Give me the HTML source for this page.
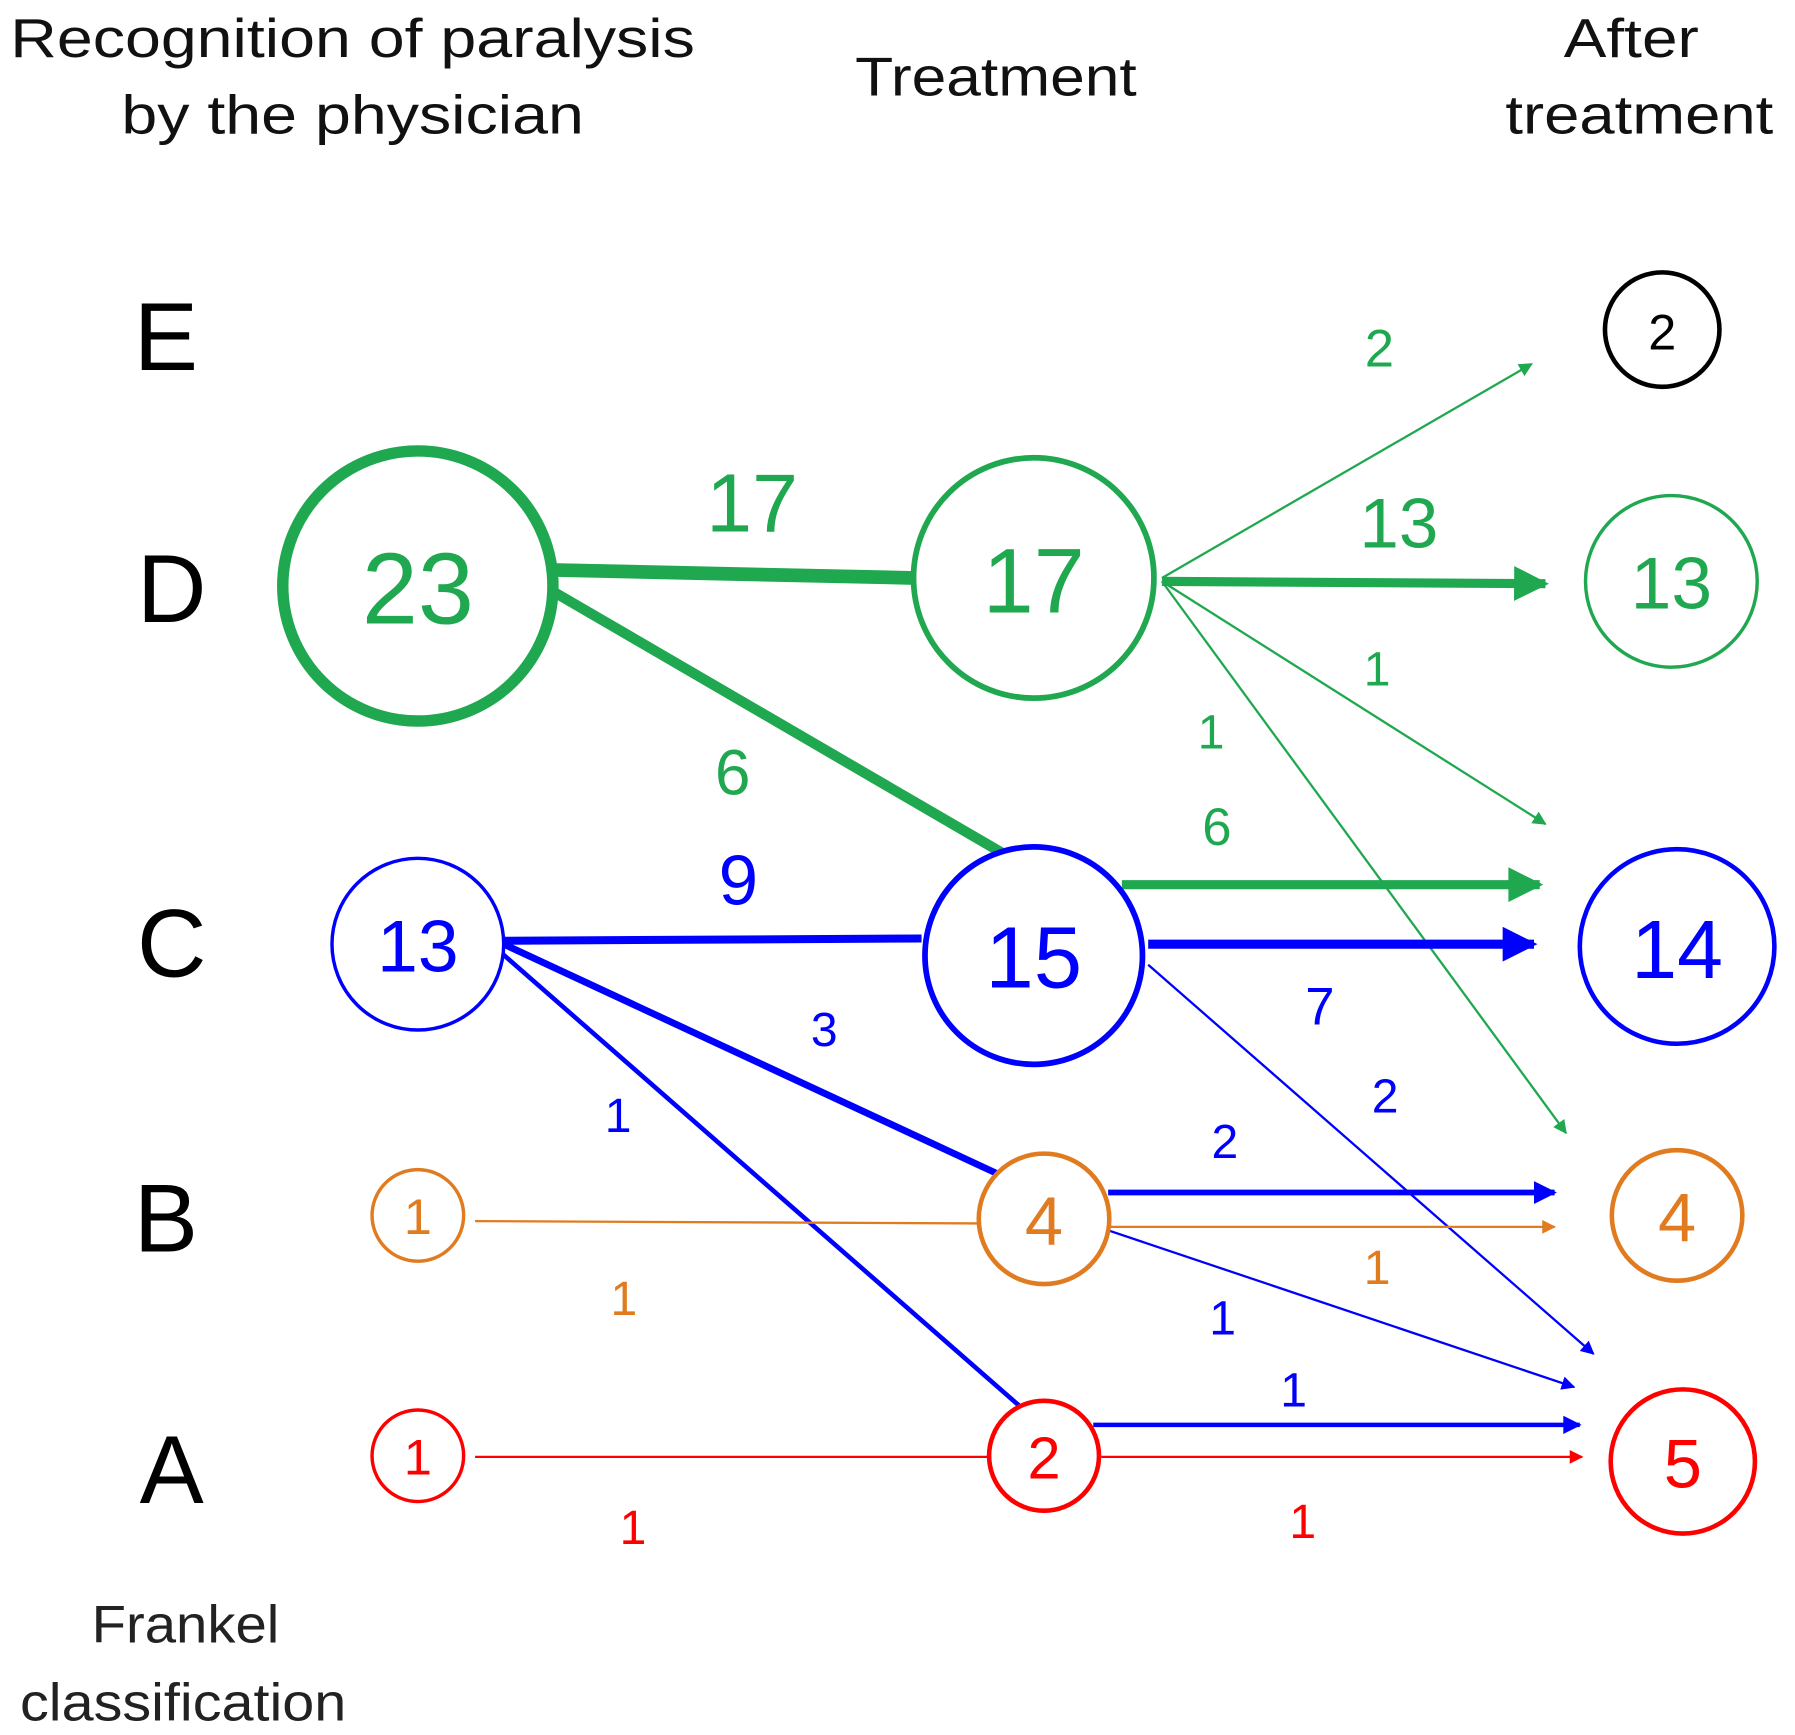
<!DOCTYPE html>
<html><head><meta charset="utf-8"><style>
html,body{margin:0;padding:0;background:#fff;}
svg{display:block;}
text{font-family:"Liberation Sans",Arial,sans-serif;dominant-baseline:central;text-anchor:middle;}
</style></head><body>
<svg width="1795" height="1735" viewBox="0 0 1568 1516" preserveAspectRatio="none" xmlns="http://www.w3.org/2000/svg">
<defs>
<marker id="ag" viewBox="0 0 10 10" refX="9" refY="5" markerWidth="4.2" markerHeight="3.8" orient="auto" markerUnits="strokeWidth"><path d="M0,0 L10,5 L0,10 z" fill="#1fa84f"/></marker>
<marker id="agS" viewBox="0 0 10 10" refX="9" refY="5" markerWidth="6" markerHeight="6" orient="auto" markerUnits="strokeWidth"><path d="M0,0 L10,5 L0,10 z" fill="#1fa84f"/></marker>
<marker id="ab" viewBox="0 0 10 10" refX="9" refY="5" markerWidth="4.2" markerHeight="3.8" orient="auto" markerUnits="strokeWidth"><path d="M0,0 L10,5 L0,10 z" fill="#0000ff"/></marker>
<marker id="abM" viewBox="0 0 10 10" refX="9" refY="5" markerWidth="5" markerHeight="4" orient="auto" markerUnits="strokeWidth"><path d="M0,0 L10,5 L0,10 z" fill="#0000ff"/></marker>
<marker id="abS" viewBox="0 0 10 10" refX="9" refY="5" markerWidth="6" markerHeight="6" orient="auto" markerUnits="strokeWidth"><path d="M0,0 L10,5 L0,10 z" fill="#0000ff"/></marker>
<marker id="ao" viewBox="0 0 10 10" refX="9" refY="5" markerWidth="6" markerHeight="6" orient="auto" markerUnits="strokeWidth"><path d="M0,0 L10,5 L0,10 z" fill="#e07b20"/></marker>
<marker id="ar" viewBox="0 0 10 10" refX="9" refY="5" markerWidth="6" markerHeight="6" orient="auto" markerUnits="strokeWidth"><path d="M0,0 L10,5 L0,10 z" fill="#ff0000"/></marker>
</defs>

<text x="308" y="33" font-size="48" fill="#111" textLength="598" lengthAdjust="spacingAndGlyphs">Recognition of paralysis</text>
<text x="308" y="100" font-size="48" fill="#111" textLength="404" lengthAdjust="spacingAndGlyphs">by the physician</text>
<text x="870" y="67" font-size="48" fill="#111" textLength="246" lengthAdjust="spacingAndGlyphs">Treatment</text>
<text x="1425" y="33" font-size="48" fill="#111" textLength="118" lengthAdjust="spacingAndGlyphs">After</text>
<text x="1432" y="100" font-size="48" fill="#111" textLength="234" lengthAdjust="spacingAndGlyphs">treatment</text>

<text x="145" y="295" font-size="84" fill="#000">E</text>
<text x="150" y="515" font-size="84" fill="#000">D</text>
<text x="150" y="825" font-size="84" fill="#000">C</text>
<text x="145" y="1065" font-size="84" fill="#000">B</text>
<text x="150" y="1285" font-size="84" fill="#000">A</text>
<text x="162" y="1420" font-size="46" fill="#222" textLength="164" lengthAdjust="spacingAndGlyphs">Frankel</text>
<text x="160" y="1488" font-size="46" fill="#222" textLength="285" lengthAdjust="spacingAndGlyphs">classification</text>

<g stroke="#1fa84f" fill="none">
<line x1="483" y1="498" x2="798" y2="505" stroke-width="12"/>
<line x1="480" y1="515" x2="875" y2="745" stroke-width="9"/>
<line x1="1015" y1="505" x2="1338" y2="318" stroke-width="2" marker-end="url(#agS)"/>
<line x1="1015" y1="508" x2="1350" y2="510" stroke-width="8" marker-end="url(#ag)"/>
<line x1="1015" y1="508" x2="1350" y2="720" stroke-width="2" marker-end="url(#agS)"/>
<line x1="1015" y1="508" x2="1368" y2="990" stroke-width="2" marker-end="url(#agS)"/>
<line x1="980" y1="773" x2="1345" y2="773" stroke-width="8" marker-end="url(#ag)"/>
</g>
<g stroke="#0000ff" fill="none">
<line x1="440" y1="822" x2="805" y2="820" stroke-width="7"/>
<line x1="440" y1="825" x2="870" y2="1025" stroke-width="6"/>
<line x1="435" y1="830" x2="890" y2="1228" stroke-width="4"/>
<line x1="1003" y1="825" x2="1340" y2="825" stroke-width="8" marker-end="url(#ab)"/>
<line x1="1003" y1="843" x2="1392" y2="1183" stroke-width="2" marker-end="url(#abS)"/>
<line x1="968" y1="1042" x2="1358" y2="1042" stroke-width="5" marker-end="url(#abM)"/>
<line x1="968" y1="1075" x2="1375" y2="1212" stroke-width="2" marker-end="url(#abS)"/>
<line x1="955" y1="1245" x2="1380" y2="1245" stroke-width="4" marker-end="url(#abM)"/>
</g>
<g stroke="#e07b20" fill="none">
<line x1="415" y1="1067" x2="858" y2="1069" stroke-width="2"/>
<line x1="970" y1="1072" x2="1358" y2="1072" stroke-width="2" marker-end="url(#ao)"/>
</g>
<g stroke="#ff0000" fill="none">
<line x1="415" y1="1273" x2="865" y2="1273" stroke-width="2"/>
<line x1="962" y1="1273" x2="1382" y2="1273" stroke-width="2" marker-end="url(#ar)"/>
</g>

<g fill="#fff">
<circle cx="365" cy="512" r="118" stroke="#1fa84f" stroke-width="10"/>
<circle cx="903" cy="505" r="105" stroke="#1fa84f" stroke-width="5"/>
<circle cx="1460" cy="508" r="75" stroke="#1fa84f" stroke-width="3"/>
<circle cx="1452" cy="288" r="50" stroke="#000" stroke-width="4"/>
<circle cx="365" cy="825" r="75" stroke="#0000ff" stroke-width="3"/>
<circle cx="903" cy="835" r="95" stroke="#0000ff" stroke-width="5"/>
<circle cx="1465" cy="827" r="85" stroke="#0000ff" stroke-width="4"/>
<circle cx="365" cy="1062" r="40" stroke="#e07b20" stroke-width="3"/>
<circle cx="912" cy="1065" r="57" stroke="#e07b20" stroke-width="4"/>
<circle cx="1465" cy="1062" r="57" stroke="#e07b20" stroke-width="4"/>
<circle cx="365" cy="1272" r="40" stroke="#ff0000" stroke-width="3"/>
<circle cx="912" cy="1272" r="48" stroke="#ff0000" stroke-width="4"/>
<circle cx="1470" cy="1277" r="63" stroke="#ff0000" stroke-width="4"/>
</g>
<text x="365" y="515" font-size="88" fill="#1fa84f">23</text>
<text x="903" y="508" font-size="80" fill="#1fa84f">17</text>
<text x="1460" y="510" font-size="64" fill="#1fa84f">13</text>
<text x="1452" y="290" font-size="44" fill="#000">2</text>
<text x="365" y="827" font-size="64" fill="#0000ff">13</text>
<text x="903" y="837" font-size="76" fill="#0000ff">15</text>
<text x="1465" y="830" font-size="72" fill="#0000ff">14</text>
<text x="365" y="1063" font-size="44" fill="#e07b20">1</text>
<text x="912" y="1067" font-size="60" fill="#e07b20">4</text>
<text x="1465" y="1064" font-size="60" fill="#e07b20">4</text>
<text x="365" y="1273" font-size="44" fill="#ff0000">1</text>
<text x="912" y="1274" font-size="52" fill="#ff0000">2</text>
<text x="1470" y="1279" font-size="60" fill="#ff0000">5</text>

<text x="657" y="440" font-size="72" fill="#1fa84f">17</text>
<text x="640" y="675" font-size="56" fill="#1fa84f">6</text>
<text x="645" y="770" font-size="62" fill="#0000ff">9</text>
<text x="720" y="900" font-size="42" fill="#0000ff">3</text>
<text x="540" y="975" font-size="42" fill="#0000ff">1</text>
<text x="545" y="1135" font-size="42" fill="#e07b20">1</text>
<text x="553" y="1335" font-size="42" fill="#ff0000">1</text>
<text x="1205" y="305" font-size="46" fill="#1fa84f">2</text>
<text x="1222" y="458" font-size="62" fill="#1fa84f">13</text>
<text x="1203" y="585" font-size="42" fill="#1fa84f">1</text>
<text x="1058" y="640" font-size="42" fill="#1fa84f">1</text>
<text x="1063" y="723" font-size="46" fill="#1fa84f">6</text>
<text x="1153" y="880" font-size="46" fill="#0000ff">7</text>
<text x="1210" y="958" font-size="42" fill="#0000ff">2</text>
<text x="1070" y="998" font-size="42" fill="#0000ff">2</text>
<text x="1203" y="1108" font-size="42" fill="#e07b20">1</text>
<text x="1068" y="1152" font-size="42" fill="#0000ff">1</text>
<text x="1130" y="1215" font-size="42" fill="#0000ff">1</text>
<text x="1138" y="1330" font-size="42" fill="#ff0000">1</text>
</svg>
</body></html>
